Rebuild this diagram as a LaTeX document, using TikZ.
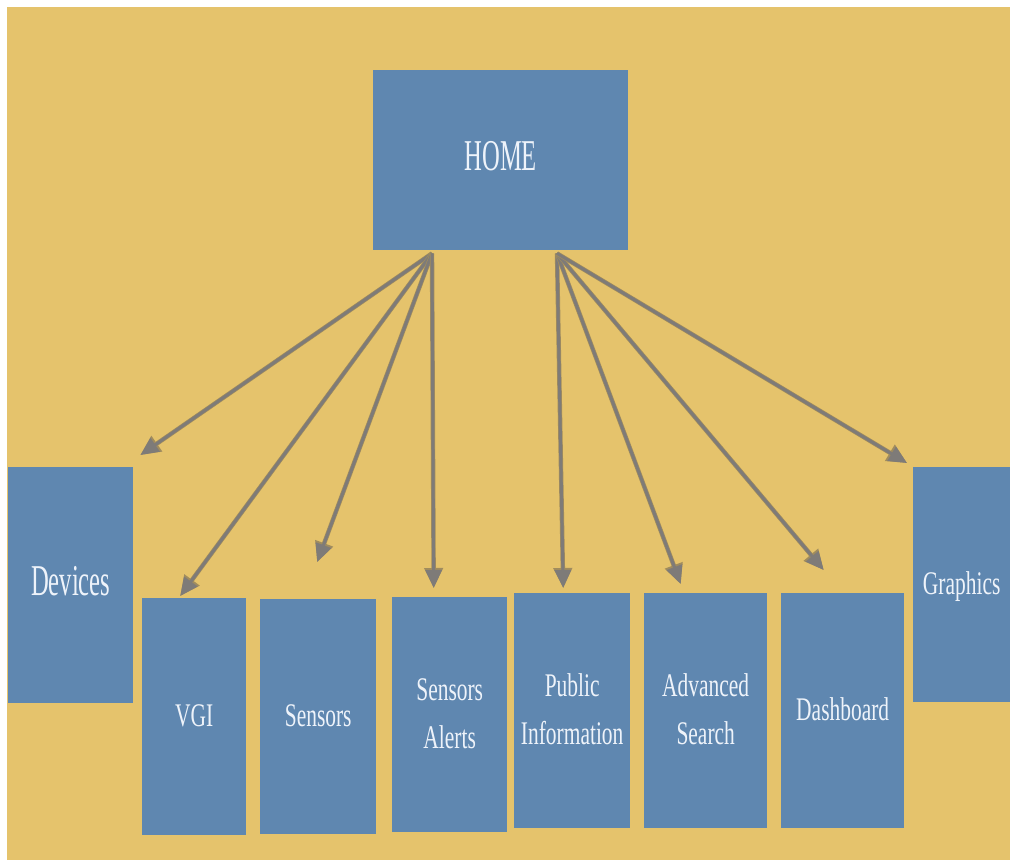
\documentclass[tikz,border=0pt]{standalone}
\usepackage{fontspec}
\setmainfont{Liberation Serif}
\usepackage{xcolor}
\usepackage{tikz}
\usetikzlibrary{arrows.meta,positioning,calc}
\definecolor{sand}{HTML}{E5C36C}
\definecolor{steel}{HTML}{5F87B0}
\definecolor{paletext}{HTML}{EEF3FA}
\definecolor{arrowgray}{HTML}{7E7B78}
\definecolor{arrowedge}{HTML}{A08C5E}
\newcommand{\squeeze}[2][0.65]{\scalebox{#1}[1]{\begin{tabular}{@{}c@{}}#2\end{tabular}}}

\begin{document}
\begin{tikzpicture}[x=1pt,y=-1pt,
  page/.style={fill=steel,text=paletext,anchor=north west,inner sep=0pt,
    font=\fontsize{33}{48}\selectfont},
  bigpage/.style={page,font=\fontsize{44}{52}\selectfont},
  link/.style={arrowgray,line width=3pt,
    preaction={draw=arrowedge,line width=4.4pt,-{Triangle[length=20pt,width=18pt]}},
    -{Triangle[length=18pt,width=16pt]}}]
  \useasboundingbox (0,0) rectangle (1010,860);
  \fill[sand] (7,7) rectangle (1010,860);
  % top page
  \node[bigpage,minimum width=255pt,minimum height=180pt] (home) at (373,70) {\squeeze[0.56]{HOME}};
  % second level pages
  \node[bigpage,minimum width=125pt,minimum height=236pt] (devices) at (8,467) {\squeeze[0.56]{Devices}};
  \node[page,minimum width=104pt,minimum height=237pt] (vgi) at (142,598) {\squeeze{VGI}};
  \node[page,minimum width=116pt,minimum height=235pt] (sensors) at (260,599) {\squeeze{Sensors}};
  \node[page,minimum width=115pt,minimum height=235pt] (alerts) at (392,597) {\squeeze{Sensors\\Alerts}};
  \node[page,minimum width=116pt,minimum height=235pt] (public) at (514,593) {\squeeze{Public\\Information}};
  \node[page,minimum width=123pt,minimum height=235pt] (advanced) at (644,593) {\squeeze{Advanced\\Search}};
  \node[page,minimum width=123pt,minimum height=235pt] (dashboard) at (781,593) {\squeeze{Dashboard}};
  \node[page,minimum width=97pt,minimum height=235pt] (graphics) at (913,467) {\squeeze{Graphics}};
  % links
  \coordinate (hl) at ($(home.south west)+(59,3)$);
  \coordinate (hr) at ($(home.south west)+(184,3)$);
  \draw[link] (hl) -- ($(devices.north east)+(7,-12)$);
  \draw[link] (hl) -- ($(vgi.north)+(-14,-2)$);
  \draw[link] (hl) -- ($(sensors.north)+(-1,-37)$);
  \draw[link] (hl) -- ($(alerts.north)+(-16,-9)$);
  \draw[link] (hr) -- ($(public.north)+(-9,-5)$);
  \draw[link] (hr) -- ($(advanced.north)+(-25,-9)$);
  \draw[link] (hr) -- ($(dashboard.north)+(-19,-23)$);
  \draw[link] (hr) -- ($(graphics.north west)+(-6,-4)$);
\end{tikzpicture}
\end{document}
